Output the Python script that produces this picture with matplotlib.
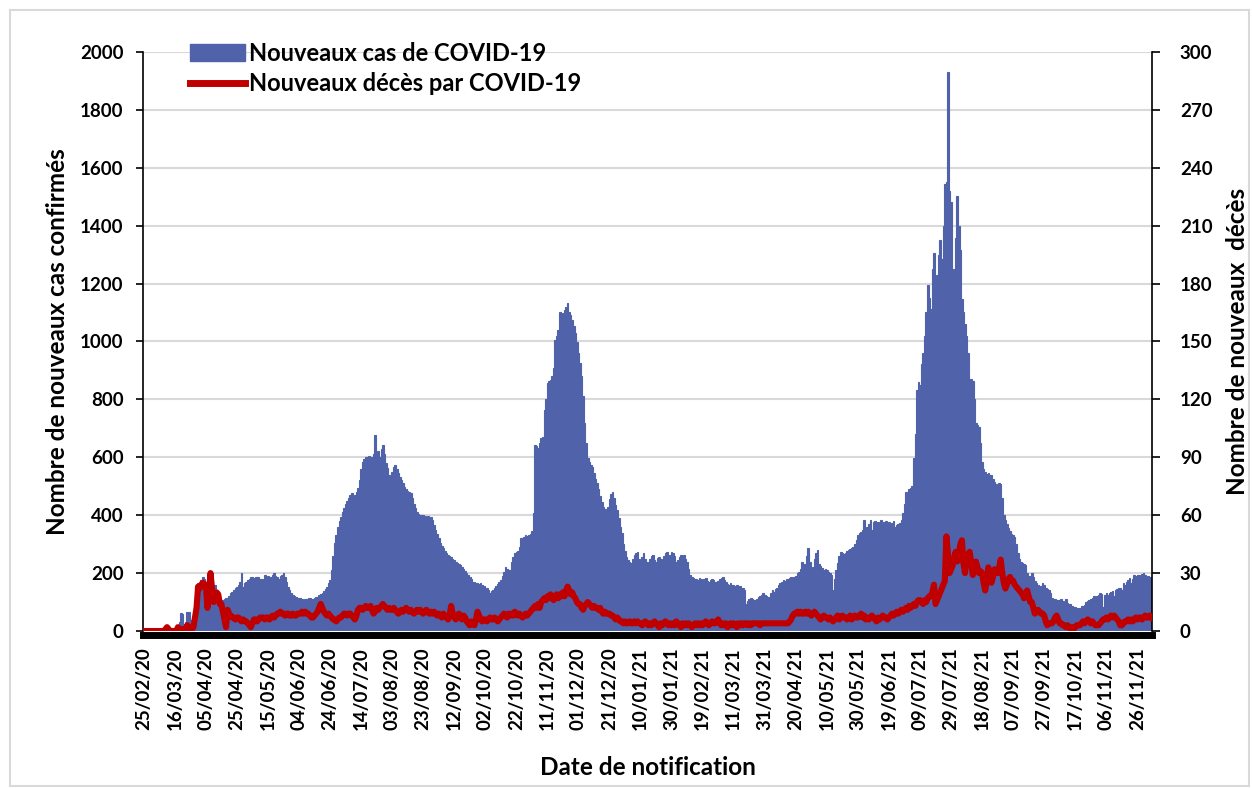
import matplotlib
matplotlib.use("Agg")
import matplotlib.pyplot as plt
from matplotlib.lines import Line2D
from matplotlib.patches import Patch, Rectangle
import numpy as np
import pandas as pd

plt.rcParams["font.family"] = ["Lato", "DejaVu Sans"]
plt.rcParams["font.weight"] = "bold"

START = "2020-02-25"

# nouveaux cas par jour (20 jours par ligne, à partir du 25/02/20)
CASES = [
    0, 0, 0, 0, 0, 0, 0, 0, 0, 0, 0, 1, 0, 2, 1, 3, 2, 5, 8, 12,
    10, 15, 20, 30, 62, 58, 26, 30, 66, 64, 38, 30, 26, 35, 28, 165, 150, 175, 188, 180,
    170, 150, 130, 115, 101, 120, 159, 140, 113, 110, 108, 107, 112, 115, 113, 120, 130, 135, 142, 150,
    153, 160, 170, 199, 153, 165, 170, 176, 180, 188, 185, 182, 185, 188, 188, 180, 178, 176, 193, 185,
    190, 188, 185, 192, 199, 190, 185, 180, 190, 195, 199, 185, 170, 153, 140, 130, 125, 120, 119, 115,
    115, 113, 110, 107, 110, 112, 115, 113, 110, 112, 115, 118, 119, 125, 128, 130, 138, 145, 153, 165,
    175, 210, 260, 303, 330, 360, 380, 395, 410, 425, 440, 450, 460, 470, 475, 465, 470, 480, 493, 520,
    560, 585, 595, 600, 602, 605, 598, 602, 610, 677, 607, 620, 600, 630, 642, 610, 580, 562, 540, 522,
    550, 565, 573, 560, 545, 533, 520, 510, 498, 490, 485, 480, 475, 460, 440, 425, 411, 405, 400, 402,
    400, 398, 395, 396, 392, 394, 385, 365, 348, 335, 320, 303, 295, 285, 275, 268, 262, 258, 254, 250,
    245, 240, 235, 230, 228, 222, 215, 207, 200, 192, 185, 178, 170, 168, 166, 165, 163, 165, 160, 155,
    150, 148, 140, 130, 138, 142, 148, 155, 162, 170, 176, 190, 205, 221, 215, 212, 210, 240, 255, 269,
    272, 275, 290, 322, 318, 325, 330, 328, 332, 334, 345, 408, 643, 640, 632, 650, 668, 670, 763, 800,
    856, 862, 868, 880, 907, 1005, 1020, 1040, 1102, 1095, 1097, 1110, 1120, 1133, 1100, 1090, 1075, 1055, 1030, 998,
    960, 927, 880, 811, 720, 650, 598, 585, 575, 568, 545, 525, 510, 490, 465, 445, 430, 420, 417, 430,
    455, 472, 480, 460, 435, 417, 390, 360, 338, 300, 275, 257, 245, 240, 234, 250, 262, 270, 273, 250,
    234, 255, 269, 250, 240, 234, 250, 258, 263, 245, 240, 251, 255, 248, 240, 260, 268, 273, 255, 262,
    274, 268, 260, 239, 245, 255, 262, 258, 262, 250, 240, 215, 195, 187, 182, 180, 178, 175, 182, 180,
    176, 178, 182, 172, 168, 175, 180, 176, 170, 168, 172, 178, 182, 187, 175, 168, 164, 160, 165, 158,
    160, 155, 158, 150, 155, 148, 147, 140, 95, 105, 110, 115, 112, 108, 105, 112, 118, 120, 125, 130,
    125, 120, 118, 112, 130, 141, 135, 145, 150, 160, 165, 170, 176, 172, 178, 180, 182, 185, 178, 187,
    190, 199, 205, 215, 239, 225, 230, 260, 286, 240, 211, 220, 250, 270, 280, 230, 225, 216, 212, 215,
    211, 205, 200, 193, 141, 180, 211, 235, 260, 274, 270, 265, 269, 275, 280, 282, 286, 290, 300, 315,
    330, 338, 343, 350, 383, 355, 360, 370, 385, 350, 375, 380, 372, 378, 370, 382, 375, 365, 380, 372,
    375, 368, 372, 380, 360, 365, 370, 372, 385, 406, 440, 481, 470, 490, 495, 501, 596, 680, 834, 860,
    850, 923, 960, 1018, 1100, 1195, 1150, 1113, 1250, 1304, 1180, 1229, 1300, 1351, 1283, 1400, 1542, 1550, 1929, 1521,
    1480, 1208, 1250, 1358, 1501, 1400, 1317, 1147, 1100, 1060, 1018, 960, 862, 870, 862, 800, 719, 710, 705, 650,
    583, 560, 550, 542, 545, 540, 540, 525, 515, 508, 505, 510, 508, 460, 399, 385, 370, 355, 345, 335,
    330, 324, 300, 270, 249, 240, 235, 232, 229, 200, 183, 190, 202, 185, 172, 165, 158, 149, 155, 166,
    160, 150, 145, 143, 130, 114, 112, 110, 108, 106, 108, 110, 105, 100, 110, 98, 95, 92, 88, 84,
    82, 80, 78, 78, 85, 88, 90, 100, 105, 108, 112, 115, 120, 118, 122, 126, 130, 128, 84, 125,
    131, 125, 130, 135, 137, 120, 140, 145, 149, 150, 140, 166, 160, 170, 175, 183, 165, 180, 195, 190,
    192, 195, 190, 198, 201, 195, 183, 190, 185, 180,
]

# nouveaux décès par jour (même découpage)
DEATHS = [
    0, 0, 0, 0, 0, 0, 0, 0, 0, 0, 0, 0, 0, 0, 1, 2, 1, 0, 0, 0,
    0, 0, 2, 1, 0, 1, 0, 1, 3, 2, 1, 1, 2, 7, 12, 23, 22, 24, 25, 24,
    24, 12, 20, 30, 22, 15, 17, 20, 19, 14, 14, 10, 6, 2, 11, 9, 8, 7, 7, 6,
    7, 7, 6, 5, 6, 5, 5, 4, 3, 2, 4, 6, 6, 5, 6, 7, 7, 7, 6, 7,
    7, 6, 7, 8, 7, 8, 9, 9, 10, 9, 9, 8, 9, 9, 8, 8, 9, 8, 8, 9,
    9, 9, 10, 9, 10, 9, 9, 8, 7, 7, 8, 9, 10, 12, 14, 12, 10, 9, 8, 9,
    8, 7, 6, 6, 5, 6, 7, 7, 8, 9, 9, 8, 9, 9, 8, 7, 6, 8, 11, 12,
    12, 11, 12, 13, 12, 12, 13, 11, 9, 10, 12, 11, 12, 13, 14, 13, 12, 11, 12, 11,
    11, 12, 11, 10, 9, 10, 11, 10, 11, 12, 11, 10, 11, 10, 9, 10, 11, 10, 11, 10,
    9, 10, 11, 10, 9, 10, 9, 10, 9, 8, 9, 8, 7, 9, 8, 7, 6, 8, 13, 9,
    7, 6, 8, 9, 7, 6, 8, 7, 5, 4, 3, 5, 4, 3, 6, 10, 8, 6, 5, 6,
    6, 5, 6, 7, 6, 6, 7, 6, 5, 6, 7, 8, 9, 8, 7, 9, 8, 9, 8, 10,
    9, 8, 9, 8, 7, 8, 9, 8, 9, 10, 11, 12, 13, 12, 14, 12, 15, 16, 17, 16,
    18, 17, 19, 17, 16, 18, 19, 17, 19, 18, 20, 18, 21, 23, 21, 19, 20, 18, 17, 15,
    14, 14, 12, 11, 13, 14, 15, 14, 13, 12, 13, 12, 12, 11, 12, 10, 9, 10, 9, 9,
    9, 8, 8, 7, 6, 7, 6, 5, 5, 4, 5, 4, 4, 5, 4, 4, 5, 4, 5, 4,
    4, 3, 4, 5, 4, 3, 4, 3, 4, 5, 4, 3, 2, 4, 3, 4, 5, 4, 3, 4,
    3, 4, 3, 5, 4, 3, 2, 4, 3, 4, 3, 4, 3, 2, 3, 4, 3, 4, 3, 4,
    3, 4, 5, 4, 3, 4, 5, 4, 4, 5, 6, 4, 3, 4, 3, 4, 2, 3, 4, 3,
    4, 3, 2, 4, 3, 4, 3, 4, 4, 3, 4, 3, 4, 4, 4, 4, 4, 3, 4, 4,
    4, 4, 4, 4, 4, 4, 4, 4, 4, 4, 4, 4, 4, 4, 4, 4, 5, 6, 8, 9,
    9, 10, 9, 10, 9, 9, 10, 9, 10, 9, 8, 9, 10, 9, 8, 7, 6, 7, 8, 7,
    7, 6, 7, 6, 5, 6, 7, 8, 6, 7, 8, 7, 7, 6, 7, 8, 6, 7, 8, 7,
    7, 8, 9, 7, 8, 6, 7, 6, 7, 8, 7, 6, 5, 7, 6, 7, 8, 7, 7, 6,
    7, 8, 9, 8, 9, 10, 9, 10, 11, 10, 11, 12, 11, 13, 12, 13, 14, 13, 15, 16,
    16, 15, 14, 16, 15, 17, 18, 18, 20, 24, 14, 16, 18, 20, 22, 24, 26, 49, 40, 30,
    32, 34, 38, 41, 36, 40, 45, 47, 35, 30, 38, 40, 41, 35, 29, 32, 36, 33, 30, 31,
    30, 25, 21, 26, 33, 30, 25, 28, 32, 31, 30, 33, 37, 30, 25, 22, 24, 27, 28, 26,
    26, 24, 23, 22, 21, 20, 19, 17, 19, 21, 18, 15, 15, 12, 9, 10, 11, 10, 9, 9,
    8, 5, 3, 4, 4, 4, 5, 7, 8, 6, 4, 4, 3, 3, 2, 3, 2, 1, 2, 1,
    2, 3, 3, 3, 4, 5, 4, 5, 6, 5, 4, 5, 4, 3, 3, 3, 4, 5, 6, 6,
    7, 6, 7, 8, 7, 8, 7, 6, 5, 3, 3, 4, 5, 5, 6, 5, 6, 5, 6, 7,
    6, 7, 7, 6, 7, 8, 7, 7, 8, 7,
]

TICK_STEP = 20
BLUE = "#5062AA"
RED = "#C00000"


def main():
    n = len(CASES)
    days = np.arange(n)
    dates = pd.date_range(START, periods=n, freq="D")

    fig = plt.figure(figsize=(12.52, 7.88), dpi=100)
    ax = fig.add_axes([0.1142, 0.1992, 0.806, 0.735])
    ax2 = ax.twinx()

    ax.bar(days, CASES, width=1.0, color=BLUE, edgecolor=BLUE, linewidth=0.8, zorder=2)
    ax2.plot(days, DEATHS, color=RED, lw=4.4, solid_joinstyle="round", zorder=3)

    ax.set_xlim(-0.5, n - 0.5)
    ax.set_ylim(0, 2000)
    ax2.set_ylim(0, 300)
    ax.set_yticks(range(0, 2001, 200))
    ax2.set_yticks(range(0, 301, 30))
    ax.set_axisbelow(True)
    ax.yaxis.grid(True, color="#d9d9d9", lw=1.5)

    ticks = days[::TICK_STEP]
    ax.set_xticks(ticks, [d.strftime("%d/%m/%y") for d in dates[::TICK_STEP]])
    ax.tick_params(axis="x", length=0, pad=9, labelsize=13.5, labelrotation=90)
    ax.tick_params(axis="y", labelsize=13.5, length=5, width=1.2, pad=9)
    ax2.tick_params(axis="y", labelsize=13.5, length=6, width=1.2, pad=14)

    for a in (ax, ax2):
        a.spines["top"].set_visible(False)
    ax.spines["right"].set_visible(False)
    ax2.spines["left"].set_visible(False)
    ax2.spines["bottom"].set_visible(False)
    ax.spines["left"].set_linewidth(1.2)
    ax2.spines["right"].set_linewidth(1.2)
    ax.spines["bottom"].set_position(("outward", 2.5))
    ax.spines["bottom"].set_linewidth(5)

    ax.set_ylabel("Nombre de nouveaux cas confirmés", fontsize=17.5, fontweight="bold", labelpad=8)
    ax2.set_ylabel("Nombre de nouveaux  décès", fontsize=17.5, fontweight="bold", labelpad=10)
    ax.set_xlabel("Date de notification", fontsize=17.5, fontweight="bold", labelpad=19)

    handles = [Patch(facecolor=BLUE, edgecolor=BLUE),
               Line2D([0], [0], color=RED, lw=5)]
    fig.legend(handles, ["Nouveaux cas de COVID-19", "Nouveaux décès par COVID-19"],
               loc="upper left", bbox_to_anchor=(0.1425, 0.962), frameon=False,
               prop={"size": 17, "weight": "bold"}, handlelength=2.3,
               handletextpad=0.2, labelspacing=0.3, borderpad=0)

    fig.add_artist(Rectangle((0.008, 0.003), 0.99, 0.984, transform=fig.transFigure,
                             fill=False, edgecolor="#d9d9d9", lw=1.5))

    fig.savefig("out.png", dpi=100)


if __name__ == "__main__":
    main()
